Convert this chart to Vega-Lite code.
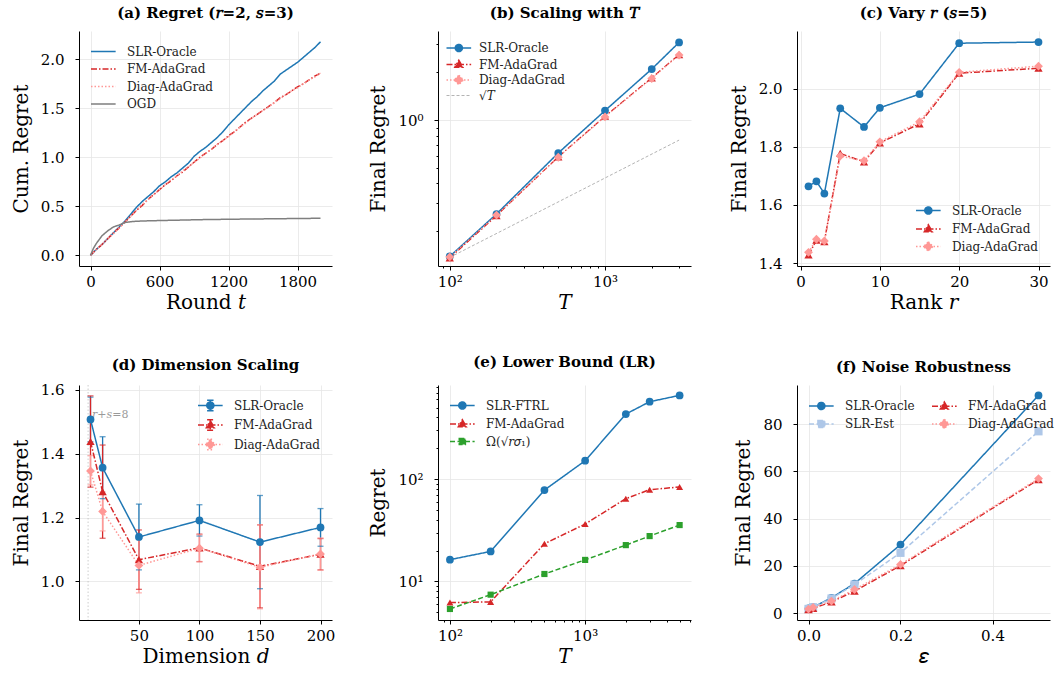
{
"$schema": "https://vega.github.io/schema/vega-lite/v6.json",
"background": "white",
"padding": {"left": 11, "top": 6, "right": 2, "bottom": 2},
"columns": 3,
"spacing": {"row": 119, "column": 106},
"bounds": "flush",
"resolve": {"scale": {"color": "independent", "strokeDash": "independent", "shape": "independent", "size": "independent", "strokeWidth": "independent"}, "legend": {"color": "independent"}},
"config": {
  "view": {"stroke": null},
  "font": "DejaVu Serif",
  "axis": {"domainColor": "#000", "domainWidth": 1, "tickColor": "#000", "tickWidth": 1, "tickSize": 4,
    "labelFont": "DejaVu Serif", "labelFontSize": 15, "labelColor": "#000",
    "titleFont": "DejaVu Serif", "titleFontSize": 20, "titleFontWeight": "normal", "titleColor": "#000",
    "gridColor": "#e6e6e6", "gridWidth": 0.8, "labelFlush": false, "labelOverlap": false, "grid": true},
  "axisY": {"labelPadding": 11, "titlePadding": 9},
  "axisX": {"labelPadding": 4, "titlePadding": 3},
  "title": {"font": "DejaVu Serif", "fontSize": 15, "fontWeight": "bold", "color": "#000", "offset": 10, "anchor": "middle"},
  "legend": {"labelFont": "DejaVu Serif", "labelFontSize": 12, "labelColor": "#222", "symbolSize": 289, "labelOffset": 18, "rowPadding": 1.5, "padding": 0, "offset": 11, "title": null, "symbolStrokeWidth": 1.5}
},
"concat": [
{
  "width": 253, "height": 235,
  "title": {"text": "(a) Regret (𝑟=2, 𝑠=3)"},
  "data": {"values": [
    {"s":"SLR-Oracle","t":0,"v":0},{"s":"SLR-Oracle","t":50,"v":0.06},{"s":"SLR-Oracle","t":100,"v":0.11},{"s":"SLR-Oracle","t":150,"v":0.17},{"s":"SLR-Oracle","t":200,"v":0.23},{"s":"SLR-Oracle","t":250,"v":0.29},{"s":"SLR-Oracle","t":300,"v":0.35},{"s":"SLR-Oracle","t":350,"v":0.42},{"s":"SLR-Oracle","t":400,"v":0.49},{"s":"SLR-Oracle","t":450,"v":0.55},{"s":"SLR-Oracle","t":500,"v":0.6},{"s":"SLR-Oracle","t":550,"v":0.65},{"s":"SLR-Oracle","t":600,"v":0.71},{"s":"SLR-Oracle","t":650,"v":0.75},{"s":"SLR-Oracle","t":700,"v":0.8},{"s":"SLR-Oracle","t":750,"v":0.84},{"s":"SLR-Oracle","t":800,"v":0.89},{"s":"SLR-Oracle","t":850,"v":0.94},{"s":"SLR-Oracle","t":900,"v":1.01},{"s":"SLR-Oracle","t":950,"v":1.06},{"s":"SLR-Oracle","t":1000,"v":1.1},{"s":"SLR-Oracle","t":1050,"v":1.15},{"s":"SLR-Oracle","t":1100,"v":1.2},{"s":"SLR-Oracle","t":1150,"v":1.26},{"s":"SLR-Oracle","t":1200,"v":1.33},{"s":"SLR-Oracle","t":1250,"v":1.39},{"s":"SLR-Oracle","t":1300,"v":1.45},{"s":"SLR-Oracle","t":1350,"v":1.51},{"s":"SLR-Oracle","t":1400,"v":1.57},{"s":"SLR-Oracle","t":1450,"v":1.62},{"s":"SLR-Oracle","t":1500,"v":1.68},{"s":"SLR-Oracle","t":1550,"v":1.73},{"s":"SLR-Oracle","t":1600,"v":1.78},{"s":"SLR-Oracle","t":1650,"v":1.85},{"s":"SLR-Oracle","t":1700,"v":1.89},{"s":"SLR-Oracle","t":1750,"v":1.93},{"s":"SLR-Oracle","t":1800,"v":1.97},{"s":"SLR-Oracle","t":1850,"v":2.02},{"s":"SLR-Oracle","t":1900,"v":2.07},{"s":"SLR-Oracle","t":1950,"v":2.12},{"s":"SLR-Oracle","t":2000,"v":2.18},
    {"s":"FM-AdaGrad","t":0,"v":0},{"s":"FM-AdaGrad","t":50,"v":0.06},{"s":"FM-AdaGrad","t":100,"v":0.11},{"s":"FM-AdaGrad","t":150,"v":0.17},{"s":"FM-AdaGrad","t":200,"v":0.23},{"s":"FM-AdaGrad","t":250,"v":0.28},{"s":"FM-AdaGrad","t":300,"v":0.34},{"s":"FM-AdaGrad","t":350,"v":0.4},{"s":"FM-AdaGrad","t":400,"v":0.46},{"s":"FM-AdaGrad","t":450,"v":0.51},{"s":"FM-AdaGrad","t":500,"v":0.57},{"s":"FM-AdaGrad","t":550,"v":0.62},{"s":"FM-AdaGrad","t":600,"v":0.67},{"s":"FM-AdaGrad","t":650,"v":0.72},{"s":"FM-AdaGrad","t":700,"v":0.76},{"s":"FM-AdaGrad","t":750,"v":0.81},{"s":"FM-AdaGrad","t":800,"v":0.85},{"s":"FM-AdaGrad","t":850,"v":0.9},{"s":"FM-AdaGrad","t":900,"v":0.95},{"s":"FM-AdaGrad","t":950,"v":1.0},{"s":"FM-AdaGrad","t":1000,"v":1.04},{"s":"FM-AdaGrad","t":1050,"v":1.08},{"s":"FM-AdaGrad","t":1100,"v":1.13},{"s":"FM-AdaGrad","t":1150,"v":1.17},{"s":"FM-AdaGrad","t":1200,"v":1.22},{"s":"FM-AdaGrad","t":1250,"v":1.26},{"s":"FM-AdaGrad","t":1300,"v":1.31},{"s":"FM-AdaGrad","t":1350,"v":1.36},{"s":"FM-AdaGrad","t":1400,"v":1.4},{"s":"FM-AdaGrad","t":1450,"v":1.44},{"s":"FM-AdaGrad","t":1500,"v":1.48},{"s":"FM-AdaGrad","t":1550,"v":1.52},{"s":"FM-AdaGrad","t":1600,"v":1.56},{"s":"FM-AdaGrad","t":1650,"v":1.61},{"s":"FM-AdaGrad","t":1700,"v":1.64},{"s":"FM-AdaGrad","t":1750,"v":1.68},{"s":"FM-AdaGrad","t":1800,"v":1.72},{"s":"FM-AdaGrad","t":1850,"v":1.75},{"s":"FM-AdaGrad","t":1900,"v":1.79},{"s":"FM-AdaGrad","t":1950,"v":1.83},{"s":"FM-AdaGrad","t":2000,"v":1.86},
    {"s":"Diag-AdaGrad","t":0,"v":0},{"s":"Diag-AdaGrad","t":50,"v":0.06},{"s":"Diag-AdaGrad","t":100,"v":0.11},{"s":"Diag-AdaGrad","t":150,"v":0.17},{"s":"Diag-AdaGrad","t":200,"v":0.22},{"s":"Diag-AdaGrad","t":250,"v":0.28},{"s":"Diag-AdaGrad","t":300,"v":0.34},{"s":"Diag-AdaGrad","t":350,"v":0.4},{"s":"Diag-AdaGrad","t":400,"v":0.46},{"s":"Diag-AdaGrad","t":450,"v":0.52},{"s":"Diag-AdaGrad","t":500,"v":0.57},{"s":"Diag-AdaGrad","t":550,"v":0.62},{"s":"Diag-AdaGrad","t":600,"v":0.67},{"s":"Diag-AdaGrad","t":650,"v":0.72},{"s":"Diag-AdaGrad","t":700,"v":0.77},{"s":"Diag-AdaGrad","t":750,"v":0.81},{"s":"Diag-AdaGrad","t":800,"v":0.86},{"s":"Diag-AdaGrad","t":850,"v":0.9},{"s":"Diag-AdaGrad","t":900,"v":0.95},{"s":"Diag-AdaGrad","t":950,"v":0.99},{"s":"Diag-AdaGrad","t":1000,"v":1.04},{"s":"Diag-AdaGrad","t":1050,"v":1.08},{"s":"Diag-AdaGrad","t":1100,"v":1.13},{"s":"Diag-AdaGrad","t":1150,"v":1.17},{"s":"Diag-AdaGrad","t":1200,"v":1.21},{"s":"Diag-AdaGrad","t":1250,"v":1.26},{"s":"Diag-AdaGrad","t":1300,"v":1.31},{"s":"Diag-AdaGrad","t":1350,"v":1.35},{"s":"Diag-AdaGrad","t":1400,"v":1.4},{"s":"Diag-AdaGrad","t":1450,"v":1.44},{"s":"Diag-AdaGrad","t":1500,"v":1.48},{"s":"Diag-AdaGrad","t":1550,"v":1.52},{"s":"Diag-AdaGrad","t":1600,"v":1.56},{"s":"Diag-AdaGrad","t":1650,"v":1.6},{"s":"Diag-AdaGrad","t":1700,"v":1.64},{"s":"Diag-AdaGrad","t":1750,"v":1.68},{"s":"Diag-AdaGrad","t":1800,"v":1.71},{"s":"Diag-AdaGrad","t":1850,"v":1.75},{"s":"Diag-AdaGrad","t":1900,"v":1.79},{"s":"Diag-AdaGrad","t":1950,"v":1.82},{"s":"Diag-AdaGrad","t":2000,"v":1.86},
    {"s":"OGD","t":0,"v":0},{"s":"OGD","t":25,"v":0.07},{"s":"OGD","t":50,"v":0.12},{"s":"OGD","t":100,"v":0.2},{"s":"OGD","t":150,"v":0.25},{"s":"OGD","t":200,"v":0.29},{"s":"OGD","t":250,"v":0.31},{"s":"OGD","t":300,"v":0.335},{"s":"OGD","t":350,"v":0.343},{"s":"OGD","t":400,"v":0.348},{"s":"OGD","t":500,"v":0.352},{"s":"OGD","t":600,"v":0.355},{"s":"OGD","t":800,"v":0.36},{"s":"OGD","t":1000,"v":0.365},{"s":"OGD","t":1200,"v":0.368},{"s":"OGD","t":1400,"v":0.371},{"s":"OGD","t":1600,"v":0.373},{"s":"OGD","t":1800,"v":0.376},{"s":"OGD","t":2000,"v":0.378}
  ]},
  "mark": {"type": "line", "strokeWidth": 1.5},
  "encoding": {
    "x": {"field": "t", "type": "quantitative", "scale": {"domain": [-100, 2100], "nice": false, "zero": false}, "axis": {"values": [0, 600, 1200, 1800], "format": "d", "title": "Round 𝑡"}},
    "y": {"field": "v", "type": "quantitative", "scale": {"domain": [-0.109, 2.29], "nice": false, "zero": false}, "axis": {"values": [0, 0.5, 1, 1.5, 2], "format": ".1f", "title": "Cum. Regret"}},
    "color": {"field": "s", "type": "nominal", "scale": {"domain": ["SLR-Oracle","FM-AdaGrad","Diag-AdaGrad","OGD"], "range": ["#1f77b4","#d62728","#ff9896","#7f7f7f"]},
      "legend": {"orient": "top-left", "encode": {"symbols": {"update": {
        "shape": {"value": "M-1,0L1.9,0"},
        "stroke": {"signal": "datum.value=='SLR-Oracle'?'#1f77b4':datum.value=='FM-AdaGrad'?'#d62728':datum.value=='Diag-AdaGrad'?'#ff9896':'#7f7f7f'"},
        "strokeDash": {"signal": "datum.value=='FM-AdaGrad'?[6,2,1.5,2]:datum.value=='Diag-AdaGrad'?[1.5,2]:[1,0]"},
        "fill": {"value": "transparent"}, "strokeWidth": {"value": 1.5}, "opacity": {"value": 1}}}}}},
    "strokeDash": {"field": "s", "type": "nominal", "scale": {"domain": ["OGD","Diag-AdaGrad","FM-AdaGrad","SLR-Oracle"], "range": [[1,0],[1.5,2],[6,2,1.5,2],[1,0]]}, "legend": null}
  }
},
{
  "width": 253, "height": 235,
  "title": {"text": "(b) Scaling with 𝑇"},
  "data": {"values": [
    {"s":"SLR-Oracle","T":100,"v":0.139},{"s":"SLR-Oracle","T":200,"v":0.257},{"s":"SLR-Oracle","T":500,"v":0.622},{"s":"SLR-Oracle","T":1000,"v":1.15},{"s":"SLR-Oracle","T":2000,"v":2.1},{"s":"SLR-Oracle","T":3000,"v":3.09},
    {"s":"FM-AdaGrad","T":100,"v":0.136},{"s":"FM-AdaGrad","T":200,"v":0.251},{"s":"FM-AdaGrad","T":500,"v":0.588},{"s":"FM-AdaGrad","T":1000,"v":1.06},{"s":"FM-AdaGrad","T":2000,"v":1.85},{"s":"FM-AdaGrad","T":3000,"v":2.59},
    {"s":"Diag-AdaGrad","T":100,"v":0.138},{"s":"Diag-AdaGrad","T":200,"v":0.253},{"s":"Diag-AdaGrad","T":500,"v":0.585},{"s":"Diag-AdaGrad","T":1000,"v":1.05},{"s":"Diag-AdaGrad","T":2000,"v":1.83},{"s":"Diag-AdaGrad","T":3000,"v":2.57},
    {"s":"√𝑇","T":100,"v":0.137},{"s":"√𝑇","T":3000,"v":0.75}
  ]},
  "encoding": {
    "x": {"field": "T", "type": "quantitative", "scale": {"type": "log", "domain": [84, 3580], "nice": false},
      "axis": {"values": [90,100,200,300,400,500,600,700,800,900,1000,2000,3000], "labelExpr": "datum.value==100?'10²':datum.value==1000?'10³':''",
        "tickSize": {"condition": {"test": "datum.value==100||datum.value==1000", "value": 4}, "value": 2},
        "gridOpacity": {"condition": {"test": "datum.value==100||datum.value==1000", "value": 1}, "value": 0}, "title": "𝑇"}},
    "y": {"field": "v", "type": "quantitative", "scale": {"type": "log", "domain": [0.121, 3.645], "nice": false},
      "axis": {"values": [0.2,0.3,0.4,0.5,0.6,0.7,0.8,0.9,1,2,3], "labelExpr": "datum.value==1?'10⁰':''",
        "tickSize": {"condition": {"test": "datum.value==1", "value": 4}, "value": 2},
        "gridOpacity": {"condition": {"test": "datum.value==1", "value": 1}, "value": 0}, "title": "Final Regret"}},
    "color": {"field": "s", "type": "nominal", "scale": {"domain": ["SLR-Oracle","FM-AdaGrad","Diag-AdaGrad","√𝑇"], "range": ["#1f77b4","#d62728","#ff9896","#a0a0a0"]}}
  },
  "layer": [
    {"mark": {"type": "line"},
     "encoding": {
       "strokeDash": {"field": "s", "type": "nominal", "scale": {"domain": ["√𝑇","Diag-AdaGrad","FM-AdaGrad","SLR-Oracle"], "range": [[3,2],[1.5,2],[6,2,1.5,2],[1,0]]}, "legend": null},
       "strokeWidth": {"field": "s", "type": "nominal", "scale": {"domain": ["√𝑇","Diag-AdaGrad","FM-AdaGrad","SLR-Oracle"], "range": [0.8,1.5,1.5,1.5]}, "legend": null},
       "color": {"field": "s", "type": "nominal", "scale": {"domain": ["SLR-Oracle","FM-AdaGrad","Diag-AdaGrad","√𝑇"], "range": ["#1f77b4","#d62728","#ff9896","#a0a0a0"]},
         "legend": {"orient": "top-left", "encode": {"symbols": {"update": {
           "shape": {"signal": "datum.value=='SLR-Oracle'?'M-1,0L1.9,0M0.03,0A0.42,0.42,0,1,0,0.87,0A0.42,0.42,0,1,0,0.03,0Z':datum.value=='FM-AdaGrad'?'M-1,0L1.9,0M0.45,-0.5L0.92,0.32L-0.02,0.32Z':datum.value=='Diag-AdaGrad'?'M-1,0L1.9,0M0.45,-0.55L1.0,0L0.45,0.55L-0.1,0Z':'M-1,0L1.9,0'"},
           "stroke": {"signal": "datum.value=='SLR-Oracle'?'#1f77b4':datum.value=='FM-AdaGrad'?'#d62728':datum.value=='Diag-AdaGrad'?'#ff9896':'#a0a0a0'"},
           "fill": {"signal": "datum.value=='SLR-Oracle'?'#1f77b4':datum.value=='FM-AdaGrad'?'#d62728':datum.value=='Diag-AdaGrad'?'#ff9896':'transparent'"},
           "strokeDash": {"signal": "datum.value=='FM-AdaGrad'?[6,2,1.5,2]:datum.value=='Diag-AdaGrad'?[1.5,2]:datum.value=='SLR-Oracle'?[1,0]:[3,2]"},
           "strokeWidth": {"signal": "datum.value=='SLR-Oracle'||datum.value=='FM-AdaGrad'||datum.value=='Diag-AdaGrad'?1.5:0.8"},
           "opacity": {"value": 1}, "fillOpacity": {"value": 1}}}}}}
     }},
    {"transform": [{"filter": "datum.s != '√𝑇'"}],
     "mark": {"type": "point", "filled": true, "opacity": 1},
     "encoding": {
       "shape": {"field": "s", "type": "nominal", "scale": {"domain": ["Diag-AdaGrad","FM-AdaGrad","SLR-Oracle"], "range": ["diamond","triangle-up","circle"]}, "legend": null},
       "size": {"field": "s", "type": "nominal", "scale": {"domain": ["Diag-AdaGrad","FM-AdaGrad","SLR-Oracle"], "range": [78,60,55]}, "legend": null}
     }}
  ]
},
{
  "width": 253, "height": 235,
  "title": {"text": "(c) Vary 𝑟 (𝑠=5)"},
  "data": {"values": [
    {"s":"SLR-Oracle","r":1,"v":1.664},{"s":"SLR-Oracle","r":2,"v":1.681},{"s":"SLR-Oracle","r":3,"v":1.639},{"s":"SLR-Oracle","r":5,"v":1.932},{"s":"SLR-Oracle","r":8,"v":1.868},{"s":"SLR-Oracle","r":10,"v":1.934},{"s":"SLR-Oracle","r":15,"v":1.981},{"s":"SLR-Oracle","r":20,"v":2.156},{"s":"SLR-Oracle","r":30,"v":2.16},
    {"s":"FM-AdaGrad","r":1,"v":1.428},{"s":"FM-AdaGrad","r":2,"v":1.479},{"s":"FM-AdaGrad","r":3,"v":1.474},{"s":"FM-AdaGrad","r":5,"v":1.777},{"s":"FM-AdaGrad","r":8,"v":1.748},{"s":"FM-AdaGrad","r":10,"v":1.813},{"s":"FM-AdaGrad","r":15,"v":1.879},{"s":"FM-AdaGrad","r":20,"v":2.053},{"s":"FM-AdaGrad","r":30,"v":2.07},
    {"s":"Diag-AdaGrad","r":1,"v":1.437},{"s":"Diag-AdaGrad","r":2,"v":1.482},{"s":"Diag-AdaGrad","r":3,"v":1.476},{"s":"Diag-AdaGrad","r":5,"v":1.768},{"s":"Diag-AdaGrad","r":8,"v":1.752},{"s":"Diag-AdaGrad","r":10,"v":1.817},{"s":"Diag-AdaGrad","r":15,"v":1.886},{"s":"Diag-AdaGrad","r":20,"v":2.056},{"s":"Diag-AdaGrad","r":30,"v":2.077}
  ]},
  "encoding": {
    "x": {"field": "r", "type": "quantitative", "scale": {"domain": [-0.45, 31.45], "nice": false, "zero": false}, "axis": {"values": [0, 10, 20, 30], "title": "Rank 𝑟"}},
    "y": {"field": "v", "type": "quantitative", "scale": {"domain": [1.39, 2.198], "nice": false, "zero": false}, "axis": {"values": [1.4, 1.6, 1.8, 2.0], "format": ".1f", "title": "Final Regret"}},
    "color": {"field": "s", "type": "nominal", "scale": {"domain": ["SLR-Oracle","FM-AdaGrad","Diag-AdaGrad"], "range": ["#1f77b4","#d62728","#ff9896"]}}
  },
  "layer": [
    {"mark": {"type": "line", "strokeWidth": 1.5},
     "encoding": {
       "strokeDash": {"field": "s", "type": "nominal", "scale": {"domain": ["Diag-AdaGrad","FM-AdaGrad","SLR-Oracle"], "range": [[1.5,2],[6,2,1.5,2],[1,0]]}, "legend": null},
       "color": {"field": "s", "type": "nominal", "scale": {"domain": ["SLR-Oracle","FM-AdaGrad","Diag-AdaGrad"], "range": ["#1f77b4","#d62728","#ff9896"]},
         "legend": {"orient": "bottom-right", "encode": {"symbols": {"update": {
           "shape": {"signal": "datum.value=='SLR-Oracle'?'M-1,0L1.9,0M0.03,0A0.42,0.42,0,1,0,0.87,0A0.42,0.42,0,1,0,0.03,0Z':datum.value=='FM-AdaGrad'?'M-1,0L1.9,0M0.45,-0.5L0.92,0.32L-0.02,0.32Z':'M-1,0L1.9,0M0.45,-0.55L1.0,0L0.45,0.55L-0.1,0Z'"},
           "stroke": {"signal": "datum.value=='SLR-Oracle'?'#1f77b4':datum.value=='FM-AdaGrad'?'#d62728':'#ff9896'"},
           "fill": {"signal": "datum.value=='SLR-Oracle'?'#1f77b4':datum.value=='FM-AdaGrad'?'#d62728':'#ff9896'"},
           "strokeDash": {"signal": "datum.value=='FM-AdaGrad'?[6,2,1.5,2]:datum.value=='Diag-AdaGrad'?[1.5,2]:[1,0]"},
           "strokeWidth": {"value": 1.5}, "opacity": {"value": 1}, "fillOpacity": {"value": 1}}}}}}
     }},
    {"mark": {"type": "point", "filled": true, "opacity": 1},
     "encoding": {
       "shape": {"field": "s", "type": "nominal", "scale": {"domain": ["Diag-AdaGrad","FM-AdaGrad","SLR-Oracle"], "range": ["diamond","triangle-up","circle"]}, "legend": null},
       "size": {"field": "s", "type": "nominal", "scale": {"domain": ["Diag-AdaGrad","FM-AdaGrad","SLR-Oracle"], "range": [78,60,55]}, "legend": null}
     }}
  ]
},
{
  "width": 253, "height": 235,
  "title": {"text": "(d) Dimension Scaling"},
  "encoding": {
    "x": {"field": "d", "type": "quantitative", "title": "Dimension 𝑑", "scale": {"domain": [0.5, 209.5], "nice": false, "zero": false}, "axis": {"values": [50, 100, 150, 200]}},
    "color": {"field": "s", "type": "nominal", "scale": {"domain": ["SLR-Oracle","FM-AdaGrad","Diag-AdaGrad"], "range": ["#1f77b4","#d62728","#ff9896"]}}
  },
  "layer": [
    {"data": {"values": [{"d": 8}]},
     "mark": {"type": "rule", "color": "#c0c0c0", "strokeDash": [1.5, 2], "strokeWidth": 0.8},
     "encoding": {"x": {"field": "d", "type": "quantitative", "title": "Dimension 𝑑"}, "color": null}},
    {"data": {"values": [{"d": 8, "v": 1.52, "label": "𝑟+𝑠=8"}]},
     "mark": {"type": "text", "align": "left", "baseline": "middle", "dx": 4, "fontSize": 11, "color": "#9a9a9a", "font": "DejaVu Serif"},
     "encoding": {"x": {"field": "d", "type": "quantitative", "title": "Dimension 𝑑"}, "y": {"field": "v", "type": "quantitative", "title": "Final Regret"}, "text": {"field": "label"}, "color": null}},
    {"data": {"name": "dd", "values": [
      {"s":"SLR-Oracle","d":10,"v":1.507,"lo":1.437,"hi":1.577},{"s":"SLR-Oracle","d":20,"v":1.356,"lo":1.259,"hi":1.453},{"s":"SLR-Oracle","d":50,"v":1.139,"lo":1.036,"hi":1.242},{"s":"SLR-Oracle","d":100,"v":1.191,"lo":1.142,"hi":1.24},{"s":"SLR-Oracle","d":150,"v":1.123,"lo":0.977,"hi":1.269},{"s":"SLR-Oracle","d":200,"v":1.169,"lo":1.11,"hi":1.228},
      {"s":"FM-AdaGrad","d":10,"v":1.438,"lo":1.295,"hi":1.581},{"s":"FM-AdaGrad","d":20,"v":1.281,"lo":1.135,"hi":1.427},{"s":"FM-AdaGrad","d":50,"v":1.068,"lo":0.975,"hi":1.161},{"s":"FM-AdaGrad","d":100,"v":1.105,"lo":1.062,"hi":1.148},{"s":"FM-AdaGrad","d":150,"v":1.047,"lo":0.917,"hi":1.177},{"s":"FM-AdaGrad","d":200,"v":1.085,"lo":1.036,"hi":1.134},
      {"s":"Diag-AdaGrad","d":10,"v":1.346,"lo":1.302,"hi":1.394},{"s":"Diag-AdaGrad","d":20,"v":1.219,"lo":1.158,"hi":1.28},{"s":"Diag-AdaGrad","d":50,"v":1.05,"lo":0.964,"hi":1.136},{"s":"Diag-AdaGrad","d":100,"v":1.104,"lo":1.061,"hi":1.146},{"s":"Diag-AdaGrad","d":150,"v":1.044,"lo":0.914,"hi":1.177},{"s":"Diag-AdaGrad","d":200,"v":1.086,"lo":1.035,"hi":1.136}
     ]},
     "layer": [
       {"mark": {"type": "rule", "strokeWidth": 1.3},
        "encoding": {"y": {"field": "lo", "type": "quantitative", "title": "Final Regret", "scale": {"domain": [0.879, 1.615], "nice": false, "zero": false}, "axis": {"values": [1.0, 1.2, 1.4, 1.6], "format": ".1f"}}, "y2": {"field": "hi"}}},
       {"mark": {"type": "tick", "orient": "horizontal", "size": 6, "thickness": 1.3},
        "encoding": {"y": {"field": "lo", "type": "quantitative", "title": "Final Regret"}}},
       {"mark": {"type": "tick", "orient": "horizontal", "size": 6, "thickness": 1.3},
        "encoding": {"y": {"field": "hi", "type": "quantitative", "title": "Final Regret"}}},
       {"mark": {"type": "line", "strokeWidth": 1.5},
        "encoding": {
          "y": {"field": "v", "type": "quantitative", "title": "Final Regret"},
          "strokeDash": {"field": "s", "type": "nominal", "scale": {"domain": ["Diag-AdaGrad","FM-AdaGrad","SLR-Oracle"], "range": [[1.5,2],[6,2,1.5,2],[1,0]]}, "legend": null},
          "color": {"field": "s", "type": "nominal", "scale": {"domain": ["SLR-Oracle","FM-AdaGrad","Diag-AdaGrad"], "range": ["#1f77b4","#d62728","#ff9896"]},
            "legend": {"orient": "top-right", "encode": {"symbols": {"update": {
              "shape": {"signal": "datum.value=='SLR-Oracle'?'M-1,0L1.9,0M0.45,-0.62L0.45,0.62M0.07,-0.62L0.83,-0.62M0.07,0.62L0.83,0.62M0.03,0A0.42,0.42,0,1,0,0.87,0A0.42,0.42,0,1,0,0.03,0Z':datum.value=='FM-AdaGrad'?'M-1,0L1.9,0M0.45,-0.62L0.45,0.62M0.07,-0.62L0.83,-0.62M0.07,0.62L0.83,0.62M0.45,-0.5L0.92,0.32L-0.02,0.32Z':'M-1,0L1.9,0M0.45,-0.62L0.45,0.62M0.07,-0.62L0.83,-0.62M0.07,0.62L0.83,0.62M0.45,-0.55L1.0,0L0.45,0.55L-0.1,0Z'"},
              "stroke": {"signal": "datum.value=='SLR-Oracle'?'#1f77b4':datum.value=='FM-AdaGrad'?'#d62728':'#ff9896'"},
              "fill": {"signal": "datum.value=='SLR-Oracle'?'#1f77b4':datum.value=='FM-AdaGrad'?'#d62728':'#ff9896'"},
              "strokeDash": {"signal": "datum.value=='FM-AdaGrad'?[6,2,1.5,2]:datum.value=='Diag-AdaGrad'?[1.5,2]:[1,0]"},
              "strokeWidth": {"value": 1.5}, "opacity": {"value": 1}, "fillOpacity": {"value": 1}}}}}}
        }},
       {"mark": {"type": "point", "filled": true, "opacity": 1},
        "encoding": {
          "y": {"field": "v", "type": "quantitative", "title": "Final Regret"},
          "shape": {"field": "s", "type": "nominal", "scale": {"domain": ["Diag-AdaGrad","FM-AdaGrad","SLR-Oracle"], "range": ["diamond","triangle-up","circle"]}, "legend": null},
          "size": {"field": "s", "type": "nominal", "scale": {"domain": ["Diag-AdaGrad","FM-AdaGrad","SLR-Oracle"], "range": [78,60,55]}, "legend": null}
        }}
     ]}
  ]
},
{
  "width": 253, "height": 235,
  "title": {"text": "(e) Lower Bound (LR)"},
  "data": {"values": [
    {"s":"SLR-FTRL","T":100,"v":16.3},{"s":"SLR-FTRL","T":200,"v":19.6},{"s":"SLR-FTRL","T":500,"v":78},{"s":"SLR-FTRL","T":1000,"v":151},{"s":"SLR-FTRL","T":2000,"v":431},{"s":"SLR-FTRL","T":3000,"v":570},{"s":"SLR-FTRL","T":5000,"v":657},
    {"s":"FM-AdaGrad","T":100,"v":6.2},{"s":"FM-AdaGrad","T":200,"v":6.3},{"s":"FM-AdaGrad","T":500,"v":23.3},{"s":"FM-AdaGrad","T":1000,"v":36.3},{"s":"FM-AdaGrad","T":2000,"v":64.3},{"s":"FM-AdaGrad","T":3000,"v":78.7},{"s":"FM-AdaGrad","T":5000,"v":83.6},
    {"s":"Ω(√𝑟𝜎₁)","T":100,"v":5.37},{"s":"Ω(√𝑟𝜎₁)","T":200,"v":7.41},{"s":"Ω(√𝑟𝜎₁)","T":500,"v":11.8},{"s":"Ω(√𝑟𝜎₁)","T":1000,"v":16.2},{"s":"Ω(√𝑟𝜎₁)","T":2000,"v":22.6},{"s":"Ω(√𝑟𝜎₁)","T":3000,"v":27.7},{"s":"Ω(√𝑟𝜎₁)","T":5000,"v":35.5}
  ]},
  "encoding": {
    "x": {"field": "T", "type": "quantitative", "scale": {"type": "log", "domain": [81.6, 6070], "nice": false},
      "axis": {"values": [90,100,200,300,400,500,600,700,800,900,1000,2000,3000,4000,5000,6000], "labelExpr": "datum.value==100?'10²':datum.value==1000?'10³':''",
        "tickSize": {"condition": {"test": "datum.value==100||datum.value==1000", "value": 4}, "value": 2},
        "gridOpacity": {"condition": {"test": "datum.value==100||datum.value==1000", "value": 1}, "value": 0}, "title": "𝑇"}},
    "y": {"field": "v", "type": "quantitative", "scale": {"type": "log", "domain": [4.19, 830], "nice": false},
      "axis": {"values": [5,6,7,8,9,10,20,30,40,50,60,70,80,90,100,200,300,400,500,600,700,800], "labelExpr": "datum.value==10?'10¹':datum.value==100?'10²':''",
        "tickSize": {"condition": {"test": "datum.value==10||datum.value==100", "value": 4}, "value": 2},
        "gridOpacity": {"condition": {"test": "datum.value==10||datum.value==100", "value": 1}, "value": 0}, "title": "Regret"}},
    "color": {"field": "s", "type": "nominal", "scale": {"domain": ["SLR-FTRL","FM-AdaGrad","Ω(√𝑟𝜎₁)"], "range": ["#1f77b4","#d62728","#2ca02c"]}}
  },
  "layer": [
    {"mark": {"type": "line", "strokeWidth": 1.5},
     "encoding": {
       "strokeDash": {"field": "s", "type": "nominal", "scale": {"domain": ["Ω(√𝑟𝜎₁)","FM-AdaGrad","SLR-FTRL"], "range": [[5,2.5],[6,2,1.5,2],[1,0]]}, "legend": null},
       "color": {"field": "s", "type": "nominal", "scale": {"domain": ["SLR-FTRL","FM-AdaGrad","Ω(√𝑟𝜎₁)"], "range": ["#1f77b4","#d62728","#2ca02c"]},
         "legend": {"orient": "top-left", "encode": {"symbols": {"update": {
           "shape": {"signal": "datum.value=='SLR-FTRL'?'M-1,0L1.9,0M0.03,0A0.42,0.42,0,1,0,0.87,0A0.42,0.42,0,1,0,0.03,0Z':datum.value=='FM-AdaGrad'?'M-1,0L1.9,0M0.45,-0.5L0.92,0.32L-0.02,0.32Z':'M-1,0L1.9,0M0.09,-0.36L0.81,-0.36L0.81,0.36L0.09,0.36Z'"},
           "stroke": {"signal": "datum.value=='SLR-FTRL'?'#1f77b4':datum.value=='FM-AdaGrad'?'#d62728':'#2ca02c'"},
           "fill": {"signal": "datum.value=='SLR-FTRL'?'#1f77b4':datum.value=='FM-AdaGrad'?'#d62728':'#2ca02c'"},
           "strokeDash": {"signal": "datum.value=='FM-AdaGrad'?[6,2,1.5,2]:datum.value=='SLR-FTRL'?[1,0]:[5,2.5]"},
           "strokeWidth": {"value": 1.5}, "opacity": {"value": 1}, "fillOpacity": {"value": 1}}}}}}
     }},
    {"mark": {"type": "point", "filled": true, "opacity": 1},
     "encoding": {
       "shape": {"field": "s", "type": "nominal", "scale": {"domain": ["Ω(√𝑟𝜎₁)","FM-AdaGrad","SLR-FTRL"], "range": ["square","triangle-up","circle"]}, "legend": null},
       "size": {"field": "s", "type": "nominal", "scale": {"domain": ["Ω(√𝑟𝜎₁)","FM-AdaGrad","SLR-FTRL"], "range": [38,60,55]}, "legend": null}
     }}
  ]
},
{
  "width": 253, "height": 235,
  "title": {"text": "(f) Noise Robustness"},
  "data": {"values": [
    {"s":"SLR-Oracle","e":0,"v":2.0},{"s":"SLR-Oracle","e":0.01,"v":2.5},{"s":"SLR-Oracle","e":0.05,"v":6.5},{"s":"SLR-Oracle","e":0.1,"v":12.5},{"s":"SLR-Oracle","e":0.2,"v":29.0},{"s":"SLR-Oracle","e":0.5,"v":92.1},
    {"s":"SLR-Est","e":0,"v":1.8},{"s":"SLR-Est","e":0.01,"v":2.5},{"s":"SLR-Est","e":0.05,"v":6.2},{"s":"SLR-Est","e":0.1,"v":12.1},{"s":"SLR-Est","e":0.2,"v":25.5},{"s":"SLR-Est","e":0.5,"v":76.9},
    {"s":"FM-AdaGrad","e":0,"v":1.5},{"s":"FM-AdaGrad","e":0.01,"v":2.0},{"s":"FM-AdaGrad","e":0.05,"v":4.8},{"s":"FM-AdaGrad","e":0.1,"v":9.3},{"s":"FM-AdaGrad","e":0.2,"v":20.1},{"s":"FM-AdaGrad","e":0.5,"v":56.5},
    {"s":"Diag-AdaGrad","e":0,"v":1.7},{"s":"Diag-AdaGrad","e":0.01,"v":2.4},{"s":"Diag-AdaGrad","e":0.05,"v":5.1},{"s":"Diag-AdaGrad","e":0.1,"v":10.0},{"s":"Diag-AdaGrad","e":0.2,"v":20.6},{"s":"Diag-AdaGrad","e":0.5,"v":56.9}
  ]},
  "encoding": {
    "x": {"field": "e", "type": "quantitative", "scale": {"domain": [-0.025, 0.525], "nice": false, "zero": false}, "axis": {"values": [0, 0.2, 0.4], "format": ".1f", "title": "𝜀"}},
    "y": {"field": "v", "type": "quantitative", "scale": {"domain": [-2.9, 96.5], "nice": false, "zero": false}, "axis": {"values": [0, 20, 40, 60, 80], "title": "Final Regret"}},
    "color": {"field": "s", "type": "nominal", "scale": {"domain": ["SLR-Oracle","SLR-Est","FM-AdaGrad","Diag-AdaGrad"], "range": ["#1f77b4","#aec7e8","#d62728","#ff9896"]}}
  },
  "layer": [
    {"mark": {"type": "line", "strokeWidth": 1.5},
     "encoding": {
       "strokeDash": {"field": "s", "type": "nominal", "scale": {"domain": ["Diag-AdaGrad","FM-AdaGrad","SLR-Est","SLR-Oracle"], "range": [[1.5,2],[6,2,1.5,2],[5,2.5],[1,0]]}, "legend": null},
       "color": {"field": "s", "type": "nominal", "scale": {"domain": ["SLR-Oracle","SLR-Est","FM-AdaGrad","Diag-AdaGrad"], "range": ["#1f77b4","#aec7e8","#d62728","#ff9896"]},
         "legend": {"orient": "top-left", "columns": 2, "columnPadding": 14, "encode": {"symbols": {"update": {
           "shape": {"signal": "datum.value=='SLR-Oracle'?'M-1,0L1.9,0M0.03,0A0.42,0.42,0,1,0,0.87,0A0.42,0.42,0,1,0,0.03,0Z':datum.value=='FM-AdaGrad'?'M-1,0L1.9,0M0.45,-0.5L0.92,0.32L-0.02,0.32Z':datum.value=='SLR-Est'?'M-1,0L1.9,0M0.05,-0.4L0.85,-0.4L0.85,0.4L0.05,0.4Z':'M-1,0L1.9,0M0.45,-0.55L1.0,0L0.45,0.55L-0.1,0Z'"},
           "stroke": {"signal": "datum.value=='SLR-Oracle'?'#1f77b4':datum.value=='FM-AdaGrad'?'#d62728':datum.value=='SLR-Est'?'#aec7e8':'#ff9896'"},
           "fill": {"signal": "datum.value=='SLR-Oracle'?'#1f77b4':datum.value=='FM-AdaGrad'?'#d62728':datum.value=='SLR-Est'?'#aec7e8':'#ff9896'"},
           "strokeDash": {"signal": "datum.value=='FM-AdaGrad'?[6,2,1.5,2]:datum.value=='Diag-AdaGrad'?[1.5,2]:datum.value=='SLR-Est'?[5,2.5]:[1,0]"},
           "strokeWidth": {"value": 1.5}, "opacity": {"value": 1}, "fillOpacity": {"value": 1}}}}}}
     }},
    {"mark": {"type": "point", "filled": true, "opacity": 1},
     "encoding": {
       "shape": {"field": "s", "type": "nominal", "scale": {"domain": ["Diag-AdaGrad","FM-AdaGrad","SLR-Est","SLR-Oracle"], "range": ["diamond","triangle-up","square","circle"]}, "legend": null},
       "size": {"field": "s", "type": "nominal", "scale": {"domain": ["Diag-AdaGrad","FM-AdaGrad","SLR-Est","SLR-Oracle"], "range": [78,60,50,55]}, "legend": null}
     }}
  ]
}
]
}
